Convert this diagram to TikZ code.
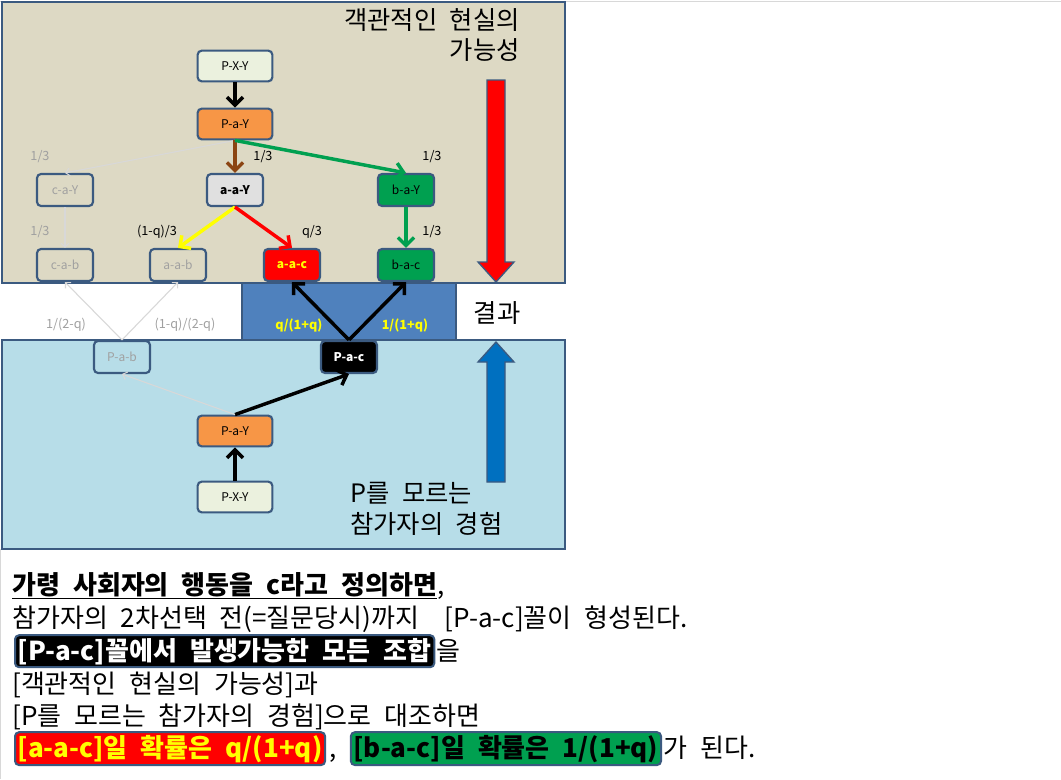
\documentclass[tikz,border=0pt]{standalone}
\usepackage{fontspec}
\setmainfont{Noto Sans CJK KR}[WordSpace=2.2]
\usetikzlibrary{arrows.meta}
\definecolor{bord}{HTML}{3B5A80}
\definecolor{beige}{HTML}{DDD9C4}
\definecolor{lblue}{HTML}{B7DDE8}
\definecolor{mblue}{HTML}{4F81BD}
\definecolor{dblue}{HTML}{0070C0}
\definecolor{orng}{HTML}{F79646}
\definecolor{pale}{HTML}{EBF1DE}
\definecolor{grn}{HTML}{00A050}
\definecolor{brn}{HTML}{8B4513}
\definecolor{fgray}{HTML}{A0A0A0}
\definecolor{lgray}{HTML}{D8D8D8}
\definecolor{ylw}{HTML}{FFFF00}
\begin{document}
\begin{tikzpicture}[x=0.75pt,y=-0.75pt,
  box/.style={draw=bord,line width=1.6pt,rounded corners=3pt,minimum width=56pt,minimum height=23pt,inner sep=0pt,font=\fontsize{9}{9}\selectfont},
  wbox/.style={box,minimum width=42pt,minimum height=24pt},
  ghost/.style={wbox,text=fgray},
  lab/.style={font=\fontsize{9.5}{10}\selectfont},
  glab/.style={lab,text=fgray},
  ylab/.style={lab,text=ylw,font=\fontsize{9.5}{10}\selectfont\bfseries},
  thick arr/.style={line width=2.6pt,-{Straight Barb[length=6pt,width=12pt]}},
  thin arr/.style={line width=0.8pt,lgray,-{Straight Barb[length=3pt,width=6pt]}},
  big/.style={font=\fontsize{19}{23}\selectfont},
  txt/.style={anchor=base west,font=\fontsize{19.5}{21}\selectfont,inner sep=0pt},
  hl/.style={rounded corners=3pt,draw=bord,line width=1.5pt,inner sep=2pt,anchor=base west,font=\fontsize{19.5}{21}\selectfont\bfseries}]
\useasboundingbox (0,0) rectangle (1061,779);
\fill[white] (0,0) rectangle (1061,779);
\draw[lgray] (0,1) -- (1061,1);
\draw[lgray] (0.5,549) -- (0.5,779);
% panels
\draw[bord,line width=2pt,fill=beige] (2,2) rectangle (565,283);
\draw[bord,line width=2pt,fill=mblue] (242,283) rectangle (456,340);
\draw[bord,line width=2pt,fill=lblue] (2,340) rectangle (565,549);
% big arrows
\draw[bord,line width=1pt,fill=red] (487,80) -- (505,80) -- (505,262) -- (514,262) -- (496,282) -- (478,262) -- (487,262) -- cycle;
\draw[bord,line width=1pt,fill=dblue] (487,482) -- (505,482) -- (505,362) -- (514,362) -- (496,342) -- (478,362) -- (487,362) -- cycle;
% titles
\node[big,align=right,anchor=north east,inner sep=0pt] (t1) at (520,8) {객관적인 현실의\\가능성};
\node[big] (t2) at (497,313) {결과};
\node[big,align=left,anchor=north west,inner sep=0pt] (t3) at (350,482) {P를 모르는\\참가자의 경험};
% nodes
\node[box,fill=pale] (pxy) at (235,66) {P-X-Y};
\node[box,fill=orng] (pay) at (235,124) {P-a-Y};
\node[ghost] (cay) at (65,190) {c-a-Y};
\node[wbox,fill=lgray!80!white,font=\fontsize{9}{9}\selectfont\bfseries] (aay) at (235,190) {a-a-Y};
\node[wbox,fill=grn] (bay) at (406,190) {b-a-Y};
\node[ghost] (cab) at (65,265) {c-a-b};
\node[ghost] (aab) at (178,265) {a-a-b};
\node[wbox,fill=red,text=ylw,font=\fontsize{9}{9}\selectfont\bfseries] (aac) at (292,265) {a-a-c};
\node[wbox,fill=grn] (bac) at (406,265) {b-a-c};
\node[ghost] (pab) at (122,357) {P-a-b};
\node[wbox,fill=black,text=white,font=\fontsize{9}{9}\selectfont\bfseries] (pac) at (349,357) {P-a-c};
\node[box,fill=orng] (pay2) at (235,431) {P-a-Y};
\node[box,fill=pale] (pxy2) at (235,497) {P-X-Y};
% arrows
\draw[thick arr,black] (pxy) -- (pay);
\draw[thin arr] (pay.south) -- (cay.north);
\draw[thick arr,brn] (pay.south) -- (aay.north);
\draw[thick arr,grn] (pay.south) -- (bay.north);
\draw[thin arr] (cay) -- (cab);
\draw[thick arr,ylw] (aay.south) -- (aab.north);
\draw[thick arr,red] (aay.south) -- (aac.north);
\draw[thick arr,grn] (bay) -- (bac);
\draw[thick arr,black] (pac.north) -- (aac.south);
\draw[thick arr,black] (pac.north) -- (bac.south);
\draw[thin arr] (pab.north) -- (cab.south);
\draw[thin arr] (pab.north) -- (aab.south);
\draw[thick arr,black] (pay2.north) -- (pac.south);
\draw[thin arr] (pay2.north) -- (pab.south);
\draw[thick arr,black] (pxy2) -- (pay2);
% labels
\node[glab] (l1) at (40,157) {1/3};
\node[glab] (l2) at (40,232) {1/3};
\node[lab] (l3) at (263,157) {1/3};
\node[lab] (l4) at (432,157) {1/3};
\node[lab] (l5) at (157,232) {(1-q)/3};
\node[lab] (l6) at (312,232) {q/3};
\node[lab] (l7) at (432,232) {1/3};
\node[glab] (l8) at (66,325) {1/(2-q)};
\node[glab] (l9) at (185,325) {(1-q)/(2-q)};
\node[ylab] (l10) at (299,325) {q/(1+q)};
\node[ylab] (l11) at (405,325) {1/(1+q)};
% bottom text
\node[txt,font=\fontsize{19.5}{21}\selectfont\bfseries] (b1) at (12,594) {\underline{가령 사회자의 행동을 c라고 정의하면}\mdseries,};
\node[txt] (b2) at (12,627) {참가자의 2차선택 전(=질문당시)까지 ~[P-a-c]꼴이 형성된다.};
\node[hl,fill=black,text=white] (b3) at (14,660) {[P-a-c]꼴에서 발생가능한 모든 조합};
\node[txt] (b3b) at ([xshift=1pt]b3.base east) {을};
\node[txt] (b4) at (12,693) {[객관적인 현실의 가능성]과};
\node[txt] (b5) at (12,725) {[P를 모르는 참가자의 경험]으로 대조하면};
\node[hl,fill=red,text=ylw] (b6) at (14,757) {[a-a-c]일 확률은 q/(1+q)};
\node[txt] (b6b) at ([xshift=2pt]b6.base east) {,};
\node[hl,fill=grn,text=black] (b7) at ([xshift=10pt]b6b.base east) {[b-a-c]일 확률은 1/(1+q)};
\node[txt] (b7b) at ([xshift=1pt]b7.base east) {가 된다.};
\end{tikzpicture}
\end{document}
